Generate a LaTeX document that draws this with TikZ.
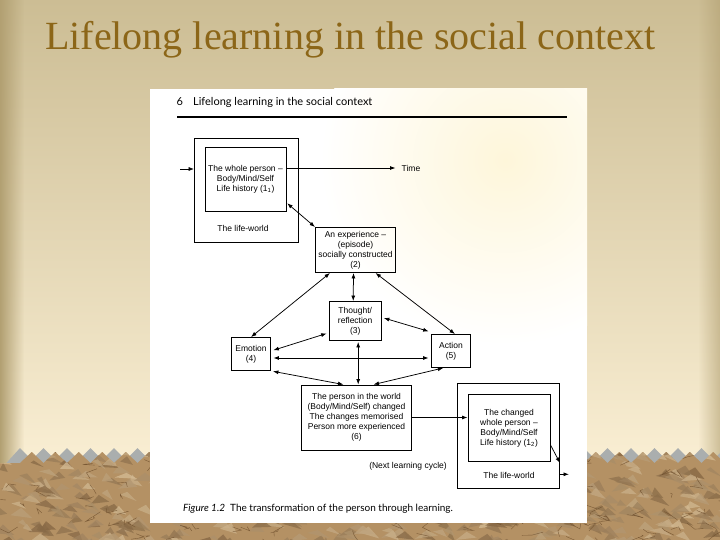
\documentclass[tikz,border=0pt]{standalone}
\usepackage{fontspec}
\setmainfont{Liberation Serif}
\newfontfamily\diagfont{Liberation Sans}
\newfontfamily\bookfont{Lato}
\usepackage[HTML]{xcolor}
\usetikzlibrary{positioning, arrows.meta, calc, fadings}

\definecolor{titlebrown}{RGB}{140,102,24}
\definecolor{slidetop}{RGB}{204,189,148}
\definecolor{slidemid}{RGB}{238,227,196}
\definecolor{slidebot}{RGB}{250,239,212}
\definecolor{slideedge}{RGB}{178,160,114}
\definecolor{paperdark}{RGB}{108,76,42}
\definecolor{papermid}{RGB}{180,145,100}
\definecolor{paperlight}{RGB}{226,202,162}
\definecolor{toothgrey}{RGB}{170,174,174}
\definecolor{pageglow}{RGB}{254,246,218}

\tikzfading[name=faderight, left color=transparent!0, right color=transparent!100]
\tikzfading[name=fadeleft, left color=transparent!100, right color=transparent!0]

\begin{document}
\begin{tikzpicture}[x=1pt, y=-1pt,
  box/.style={draw, line width=0.9pt, inner sep=0pt, align=center,
    font=\diagfont\fontsize{8.5}{10}\selectfont},
  lbl/.style={inner sep=0pt, align=center, font=\diagfont\fontsize{8.5}{10}\selectfont},
  tip/.style={-{Latex[length=5.5pt,width=4pt]}, line width=0.75pt},
  twotip/.style={{Latex[length=5.5pt,width=4pt]}-{Latex[length=5.5pt,width=4pt]}, line width=0.75pt},
  gap/.style={shorten <=2.5pt, shorten >=2.5pt},
  book/.style={inner sep=0pt, anchor=base west}]
\useasboundingbox (0,0) rectangle (720,540);

% slide background
\shade[top color=slidetop, middle color=slidemid, bottom color=slidebot] (0,0) rectangle (720,470);
\fill[slideedge, path fading=faderight] (0,0) rectangle (24,470);
\fill[slideedge, path fading=fadeleft, opacity=0.6] (698,0) rectangle (720,470);

% crumpled paper band with torn edge
\fill[toothgrey] (0,470) \foreach \k in {0,...,30} { -- (20+23.5*\k,448) -- (31.75+23.5*\k,460) } -- (720,470) -- cycle;
\begin{scope}
  \clip (0,540) -- (0,463) \foreach \k in {0,...,30} { -- (20+23.5*\k,463) -- (31.75+23.5*\k,452) } -- (720,540) -- cycle;
  \fill[papermid] (0,440) rectangle (720,540);
  \pgfmathsetseed{42}
  \foreach \i in {1,...,600} {
    \pgfmathsetmacro\px{-10+740*rnd}
    \pgfmathsetmacro\py{445+100*rnd}
    \pgfmathtruncatemacro\mix{20+70*rnd}
    \fill[paperlight!\mix!paperdark, opacity=0.75] (\px,\py) -- ++(3+9*rnd,-2-7*rnd) -- ++(4+8*rnd,5+7*rnd) -- cycle;
  }
  \foreach \i in {1,...,160} {
    \pgfmathsetmacro\px{-10+740*rnd}
    \pgfmathsetmacro\py{445+100*rnd}
    \draw[paperdark, line width=0.4pt, opacity=0.8] (\px,\py) -- ++(12*rand,6*rand) -- ++(12*rand,6*rand);
  }
\end{scope}

% title
\node[anchor=base west, inner sep=0pt, text=titlebrown, font=\fontsize{40}{48}\selectfont] (title) at (45,50) {Lifelong learning in the social context};

% scanned page
\fill[white] (150,89) rectangle (587,523);
\begin{scope}
  \clip (150,89) rectangle (587,523);
  \shade[inner color=pageglow, outer color=white] (505,160) circle (185);
\end{scope}
\node[book, font=\bookfont\fontsize{11}{13}\selectfont] (pgnum) at (176.5,105.5) {6};
\node[book, font=\bookfont\fontsize{11}{13}\selectfont] (runhead) at (193,105.5) {Lifelong learning in the social context};
\coordinate (ruleL) at (177,117);
\coordinate (ruleR) at (567,117);
\draw[line width=1.1pt] (ruleL) -- (ruleR);

% first life-world
\node[box, minimum width=103.5pt, minimum height=104pt] (life1) at (246.3,190) {};
\node[box, minimum width=81pt, minimum height=64pt] (person1) at (245.5,179) {The whole person –\\Body/Mind/Self\\Life history (1\textsubscript{1})};
\node[lbl] (lw1) at (243,228) {The life-world};
\node[lbl, anchor=west] (tm) at (401.5,168) {Time};
\coordinate (in1) at (180,169);

% the learning episode
\node[box, minimum width=80pt, minimum height=45pt] (exper) at (355.5,250) {An experience –\\(episode)\\socially constructed\\(2)};
\node[box, minimum width=51.5pt, minimum height=39pt] (thought) at (355.2,321) {Thought/\\reflection\\(3)};
\node[box, minimum width=39pt, minimum height=33pt] (emotion) at (251,354) {Emotion\\(4)};
\node[box, minimum width=39pt, minimum height=33pt] (action) at (451,351) {Action\\(5)};
\node[box, minimum width=110pt, minimum height=65pt] (changed) at (356.5,417.5) {The person in the world\\(Body/Mind/Self) changed\\The changes memorised\\Person more experienced\\(6)};

% second life-world
\node[box, minimum width=102.5pt, minimum height=105pt] (life2) at (508.3,436) {};
\node[box, minimum width=82pt, minimum height=67.7pt] (person2) at (509,427.9) {The changed\\whole person –\\Body/Mind/Self\\Life history (1\textsubscript{2})};
\node[lbl] (lw2) at (509,475) {The life-world};
\node[lbl] (next) at (408,466.5) {(Next learning cycle)};
\coordinate (out2) at (569,474.3);

% connectors
\draw[tip] (in1) -- (in1 -| life1.west);
\draw[tip] (person1.east |- tm.west) -- ([xshift=-6pt]tm.west);
\draw[twotip, shorten <=1pt] (person1.-30) -- (exper.north west);
\draw[twotip] ([xshift=-25.5pt]exper.south) -- (emotion.north);
\draw[twotip] ([xshift=-2pt]exper.south) -- ([xshift=-2pt]thought.north);
\draw[twotip] ([xshift=20pt]exper.south) -- ([xshift=4pt]action.north);
\draw[twotip, gap] ([yshift=-11.7pt]thought.west) -- ([yshift=3pt]emotion.east);
\draw[twotip, gap] ([yshift=3.7pt]thought.east) -- ([yshift=2pt]action.north west);
\draw[twotip, gap] ([yshift=-4pt]emotion.east) -- ([yshift=-4pt]emotion.east -| action.west);
\draw[twotip, shorten <=1pt] ([xshift=3pt]thought.south) -- ([xshift=3pt]thought.south |- changed.north);
\draw[twotip, shorten <=2pt] (emotion.south east) -- ([xshift=-13pt]changed.north);
\draw[twotip] ([xshift=-7.7pt]action.south) -- ([xshift=17pt]changed.north);
\draw[tip] (changed.east) -- (changed.east -| person2.west);
\draw[tip] ([yshift=-17pt]person2.east) -- ([yshift=-27pt]life2.east);
\draw[tip] (out2 -| life2.east) -- (out2);

% caption
\node[book, font=\bookfont\fontsize{10}{12}\selectfont] (caption) at (183,511.5) {\textit{Figure 1.2}\hspace{0.5em}The transformation of the person through learning.};
\end{tikzpicture}
\end{document}
